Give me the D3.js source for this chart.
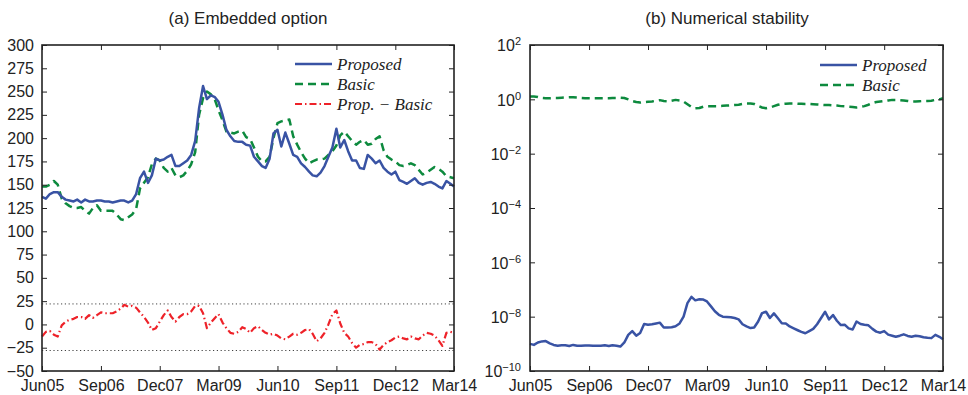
<!DOCTYPE html>
<html>
<head>
<meta charset="utf-8">
<script src="https://cdn.jsdelivr.net/npm/d3@7"></script>
<style>
  body { margin: 0; background: #fff; }
  svg { display: block; }
  .tick text { font-family: "Liberation Sans", Arial, sans-serif; font-size: 16px; fill: #222; }
  .tick line { stroke: #222; stroke-width: 1; }
  .panel-title { font-family: "Liberation Sans", Arial, sans-serif; font-size: 17px; fill: #222; }
  .legend text { font-family: "Liberation Serif", "Times New Roman", serif; font-style: italic; font-size: 17px; fill: #222; }
  .ylog text { font-family: "Liberation Sans", Arial, sans-serif; font-size: 16px; fill: #222; }
</style>
</head>
<body>
<svg id="chart" width="968" height="395"></svg>
<script>
// monthly observations, Jun 2005 .. Mar 2014
const firstMonth = 'Jun05'
const xTickLabels = ['Jun05', 'Sep06', 'Dec07', 'Mar09', 'Jun10', 'Sep11', 'Dec12', 'Mar14']

// (a) embedded option value
const embeddedTicks = [-50, -25, 0, 25, 50, 75, 100, 125, 150, 175, 200, 225, 250, 275, 300]
const embeddedBounds = [22, -28]
const embeddedProposed = [
  137, 135, 140, 142, 142, 137, 134, 133, 132, 134,
  131, 134, 132, 132, 133, 133, 132, 132, 131, 132,
  133, 133, 131, 133, 140, 157, 164, 152, 160, 178,
  176, 177, 180, 182, 170, 170, 173, 176, 182, 197,
  232, 256, 242, 246, 244, 239, 225, 209, 202, 197,
  196, 196, 193, 192, 180, 175, 170, 168, 178, 205,
  209, 191, 206, 194, 182, 180, 173, 169, 164, 160,
  159, 163, 170, 180, 190, 210, 190, 198, 186, 176,
  176, 168, 167, 182, 178, 173, 176, 168, 164, 161,
  164, 155, 153, 151, 154, 157, 152, 150, 152, 153,
  151, 148, 146, 154, 151, 148
]
const embeddedBasic = [
  148, 148, 150, 154, 150, 135, 130, 127, 125, 125,
  126, 122, 119, 125, 128, 122, 122, 122, 122, 118,
  113, 112, 115, 118, 124, 146, 152, 158, 172, 178,
  176, 168, 164, 168, 160, 158, 160, 165, 172, 185,
  225, 243, 250, 247, 241, 230, 219, 207, 206, 205,
  207, 208, 201, 199, 190, 180, 175, 175, 180, 200,
  216, 218, 219, 220, 202, 193, 185, 178, 173, 175,
  177, 177, 178, 182, 186, 192, 203, 207, 202, 197,
  193, 196, 198, 193, 194, 199, 202, 187, 180, 177,
  175, 171, 170, 171, 173, 171, 166, 161, 163, 166,
  169, 167, 164, 159, 158, 157
]
const embeddedDiff = [
  -13, -8, -7, -11, -13, -1, 3, 5, 6, 8,
  8, 6, 10, 7, 10, 13, 12, 12, 12, 14,
  17, 21, 19, 20, 18, 13, 8, 2, -6, -4,
  3, 10, 15, 8, 3, 8, 11, 11, 14, 20,
  20, 12, -4, 2, 7, 11, 2, -4, -9, -10,
  -8, -3, -5, -9, -4, -2, -6, -9, -11, -10,
  -12, -15, -16, -13, -10, -11, -9, -6, -5, -10,
  -18, -15, -9, 0, 11, 15, 1, -9, -13, -20,
  -25, -22, -21, -19, -19, -21, -27, -22, -19, -17,
  -14, -13, -15, -16, -13, -15, -16, -12, -9, -10,
  -12, -17, -23, -9, -8, -9
]

// (b) numerical stability, stored as base-10 exponents
const stabilityTickExps = [2, 0, -2, -4, -6, -8, -10]
const stabProposedExp = [
  -9.0, -9.04, -8.95, -8.91, -8.9, -8.98, -9.04, -9.07, -9.05, -9.05,
  -9.08, -9.04, -9.07, -9.07, -9.06, -9.06, -9.07, -9.07, -9.07, -9.05,
  -9.08, -9.05, -9.07, -9.1, -8.95, -8.67, -8.53, -8.7, -8.6, -8.27,
  -8.3, -8.28, -8.25, -8.22, -8.4, -8.4, -8.39, -8.35, -8.25, -8.0,
  -7.5, -7.27, -7.4, -7.36, -7.37, -7.44, -7.62, -7.8, -7.93, -8.0,
  -8.01, -8.02, -8.05, -8.1, -8.28, -8.36, -8.42, -8.4, -8.18, -7.87,
  -7.82, -8.05, -7.88, -8.06, -8.24, -8.25, -8.36, -8.43, -8.5, -8.56,
  -8.61, -8.53, -8.45, -8.28, -8.05, -7.82, -8.1, -7.94, -8.15, -8.31,
  -8.3, -8.43, -8.47, -8.18, -8.27, -8.3, -8.32, -8.45, -8.55, -8.59,
  -8.53, -8.66, -8.7, -8.74, -8.7, -8.65, -8.71, -8.74, -8.7, -8.72,
  -8.76, -8.78, -8.79, -8.67, -8.74, -8.83
]
const stabBasicExp = [
  0.1, 0.1, 0.09, 0.05, 0.04, 0.04, 0.05, 0.05, 0.06, 0.07,
  0.08, 0.08, 0.07, 0.05, 0.04, 0.04, 0.04, 0.04, 0.04, 0.04,
  0.04, 0.05, 0.05, 0.06, 0.05, 0.0, -0.06, -0.1, -0.12, -0.1,
  -0.09, -0.08, -0.05, -0.03, -0.06, -0.08, -0.05, -0.02, -0.04, -0.08,
  -0.18, -0.28, -0.33, -0.32, -0.27, -0.25, -0.25, -0.25, -0.25, -0.24,
  -0.23, -0.22, -0.21, -0.2, -0.17, -0.15, -0.15, -0.17, -0.24, -0.3,
  -0.33, -0.3, -0.25, -0.2, -0.17, -0.16, -0.15, -0.15, -0.16, -0.16,
  -0.17, -0.17, -0.18, -0.19, -0.2, -0.21, -0.21, -0.22, -0.23, -0.25,
  -0.26, -0.27, -0.28, -0.3, -0.28, -0.25, -0.2, -0.14, -0.1, -0.08,
  -0.06, -0.04, -0.02, -0.02, -0.03, -0.04, -0.06, -0.08, -0.08, -0.07,
  -0.06, -0.06, -0.05, -0.02, 0.0, 0.04
]

const blue = '#3953a4'
const green = '#0d8a3e'
const red = '#ee2229'

const parseMonth = d3.timeParse('%b%y')
const startDate = parseMonth(firstMonth)
const monthDate = (i) => d3.timeMonth.offset(startDate, i)
const tickDates = xTickLabels.map(parseMonth)

const svg = d3.select('#chart')
const plotH = 326

// draws the box, inward ticks on all four sides and the x labels
function drawFrame(g, xScale, yScale, yTicks, yFormat, width) {
  g.append('g')
    .attr('transform', `translate(0, ${plotH})`)
    .call(d3.axisBottom(xScale).tickValues(tickDates).tickFormat(d3.timeFormat('%b%y'))
      .tickSizeInner(-5).tickSizeOuter(0).tickPadding(9))
  g.append('g')
    .call(d3.axisTop(xScale).tickValues(tickDates).tickFormat('')
      .tickSizeInner(-5).tickSizeOuter(0))
  g.append('g')
    .call(d3.axisLeft(yScale).tickValues(yTicks).tickFormat(yFormat)
      .tickSizeInner(-5).tickSizeOuter(0).tickPadding(8))
  g.append('g')
    .attr('transform', `translate(${width}, 0)`)
    .call(d3.axisRight(yScale).tickValues(yTicks).tickFormat('')
      .tickSizeInner(-5).tickSizeOuter(0))
  g.selectAll('.domain').remove()

  g.append('rect')
    .attr('width', width)
    .attr('height', plotH)
    .attr('fill', 'none')
    .attr('stroke', '#222')
    .attr('stroke-width', 1.6)
}

function drawSeries(g, xScale, yScale, values, color, dash, width) {
  const line = d3.line()
    .x((d, i) => xScale(monthDate(i)))
    .y((d) => yScale(d))
  g.append('path')
    .datum(values)
    .attr('d', line)
    .attr('fill', 'none')
    .attr('stroke', color)
    .attr('stroke-width', width)
    .attr('stroke-dasharray', dash)
    .attr('stroke-linejoin', 'round')
}

function drawLegend(g, x, y, items) {
  const legend = g.append('g').attr('class', 'legend')
    .attr('transform', `translate(${x}, ${y})`)
  const rows = legend.selectAll('g')
    .data(items)
    .join('g')
    .attr('transform', (d, i) => `translate(0, ${i * 20})`)
  rows.append('line')
    .attr('x1', 0).attr('x2', 37)
    .attr('stroke', (d) => d.color)
    .attr('stroke-width', (d) => d.width)
    .attr('stroke-dasharray', (d) => d.dash)
  rows.append('text')
    .attr('x', 42)
    .attr('dy', '0.33em')
    .text((d) => d.name)
}

// ---- (a) Embedded option ----
const widthA = 412
const gA = svg.append('g').attr('transform', 'translate(42, 45)')
const xA = d3.scaleTime().domain([tickDates[0], tickDates[tickDates.length - 1]]).range([0, widthA])
const yA = d3.scaleLinear().domain([-50, 300]).range([plotH, 0])

svg.append('text').attr('class', 'panel-title')
  .attr('x', 248).attr('y', 24).attr('text-anchor', 'middle')
  .text('(a) Embedded option')

gA.selectAll('.bound')
  .data(embeddedBounds)
  .join('line')
  .attr('class', 'bound')
  .attr('x1', 0).attr('x2', widthA)
  .attr('y1', (d) => yA(d)).attr('y2', (d) => yA(d))
  .attr('stroke', '#444')
  .attr('stroke-width', 1)
  .attr('stroke-dasharray', '1.2,2.6')

const seriesA = [
  {name: 'Proposed', values: embeddedProposed, color: blue, dash: null, width: 2.5},
  {name: 'Basic', values: embeddedBasic, color: green, dash: '8,5', width: 2.5},
  {name: 'Prop. \u2212 Basic', values: embeddedDiff, color: red, dash: '7,3,1.5,3', width: 2.2}
]
seriesA.slice().reverse().forEach((s) => drawSeries(gA, xA, yA, s.values, s.color, s.dash, s.width))
drawFrame(gA, xA, yA, embeddedTicks, d3.format('d'), widthA)
drawLegend(gA, 253, 19, seriesA)

// ---- (b) Numerical stability ----
const widthB = 413
const gB = svg.append('g').attr('transform', 'translate(530, 45)')
const xB = d3.scaleTime().domain([tickDates[0], tickDates[tickDates.length - 1]]).range([0, widthB])
const yB = d3.scaleLog().domain([1e-10, 1e2]).range([plotH, 0])

svg.append('text').attr('class', 'panel-title')
  .attr('x', 727).attr('y', 24).attr('text-anchor', 'middle')
  .text('(b) Numerical stability')

const seriesB = [
  {name: 'Proposed', values: stabProposedExp.map((e) => 10 ** e), color: blue, dash: null, width: 2.5},
  {name: 'Basic', values: stabBasicExp.map((e) => 10 ** e), color: green, dash: '8,5', width: 2.5}
]
seriesB.forEach((s) => drawSeries(gB, xB, yB, s.values, s.color, s.dash, s.width))
drawFrame(gB, xB, yB, stabilityTickExps.map((e) => 10 ** e), () => '', widthB)

// power-of-ten labels with superscripts
const ylab = gB.append('g').attr('class', 'ylog')
  .selectAll('text')
  .data(stabilityTickExps)
  .join('text')
  .attr('x', -9)
  .attr('y', (d) => yB(10 ** d))
  .attr('dy', '0.4em')
  .attr('text-anchor', 'end')
ylab.append('tspan').text('10')
ylab.append('tspan')
  .attr('dy', '-0.55em')
  .style('font-size', '11px')
  .text((d) => String(d).replace('-', '\u2212'))

drawLegend(gB, 290, 20, seriesB)
</script>
</body>
</html>
